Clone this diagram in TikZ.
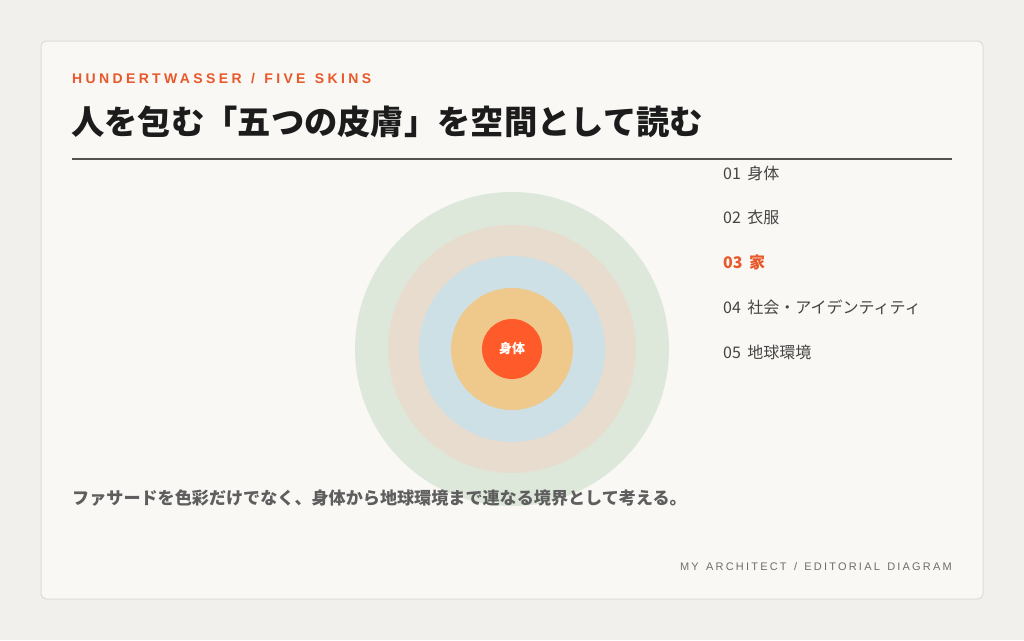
\documentclass[tikz,border=0pt]{standalone}
\usepackage{fontspec}
\setmainfont{Liberation Sans}
\newfontfamily\cjk{Noto Sans CJK JP}
\newfontfamily\kick[LetterSpace=24,WordSpace=1.3]{Liberation Sans}
\newfontfamily\footf[LetterSpace=20,WordSpace=1.4]{Liberation Sans}
\definecolor{bg}{HTML}{F1F0EC}
\definecolor{card}{HTML}{F9F8F4}
\definecolor{cardline}{HTML}{DEDCD6}
\definecolor{accent}{HTML}{E8582A}
\definecolor{ink}{HTML}{1C1C1C}
\definecolor{body}{HTML}{444444}
\definecolor{muted}{HTML}{5E5E5E}
\definecolor{foot}{HTML}{6E6E6E}
\definecolor{rulec}{HTML}{555350}
\definecolor{sA}{HTML}{FF5A2A}
\definecolor{sB}{HTML}{EFC98C}
\definecolor{sC}{HTML}{CCE0E5}
\definecolor{sD}{HTML}{E8DCCF}
\definecolor{sE}{HTML}{DDE8DA}
\tikzset{
  skin/.style={circle, inner sep=0pt, draw=none},
  txt/.style={inner sep=0pt, anchor=west},
  item/.style={txt, font=\cjk\fontsize{16}{19}\selectfont, text=body},
}
\newcommand{\numgap}{\hspace{6.5pt}}
\begin{document}
\begin{tikzpicture}[x=1pt,y=-1pt]
\useasboundingbox (0,0) rectangle (1024,640);
\fill[bg] (0,0) rectangle (1024,640);
\draw[cardline, fill=card, line width=1pt, rounded corners=6pt] (41,41) rectangle (983,599);
% skins
\node[skin, fill=sE, minimum size=314pt] (earth) at (512,349) {};
\node[skin, fill=sD, minimum size=248pt] (society) at (512,349) {};
\node[skin, fill=sC, minimum size=186pt] (house) at (512,349) {};
\node[skin, fill=sB, minimum size=122pt] (clothes) at (512,349) {};
\node[skin, fill=sA, minimum size=60pt, text=white, font=\cjk\bfseries\fontsize{13}{15}\selectfont] (body) at (512,349) {身体};
% header
\node[txt, text=accent, font=\kick\bfseries\fontsize{14}{16}\selectfont] (kicker) at (72,79) {HUNDERTWASSER / FIVE SKINS};
\node[txt, text=ink, font=\cjk\bfseries\fontsize{33.3}{38}\selectfont] (title) at (71,122) {人を包む「五つの皮膚」を空間として読む};
\coordinate (ruleL) at (72,159);
\coordinate (ruleR) at (952,159);
\draw[rulec, line width=1.5pt] (ruleL) -- (ruleR);
% list
\node[item] (i1) at (723,173) {01\numgap 身体};
\node[item] (i2) at (723,217) {02\numgap 衣服};
\node[item, text=accent, font=\cjk\bfseries\fontsize{16}{19}\selectfont] (i3) at (723,262) {03\numgap 家};
\node[item] (i4) at (723,307) {04\numgap 社会・アイデンティティ};
\node[item] (i5) at (723,352) {05\numgap 地球環境};
% caption
\node[txt, text=muted, font=\cjk\bfseries\fontsize{17.1}{20}\selectfont] (caption) at (72,498) {ファサードを色彩だけでなく、身体から地球環境まで連なる境界として考える。};
% footer
\node[inner sep=0pt, anchor=east, text=foot, font=\footf\fontsize{11}{13}\selectfont] (footer) at (952,567) {MY ARCHITECT / EDITORIAL DIAGRAM};
\end{tikzpicture}
\end{document}
